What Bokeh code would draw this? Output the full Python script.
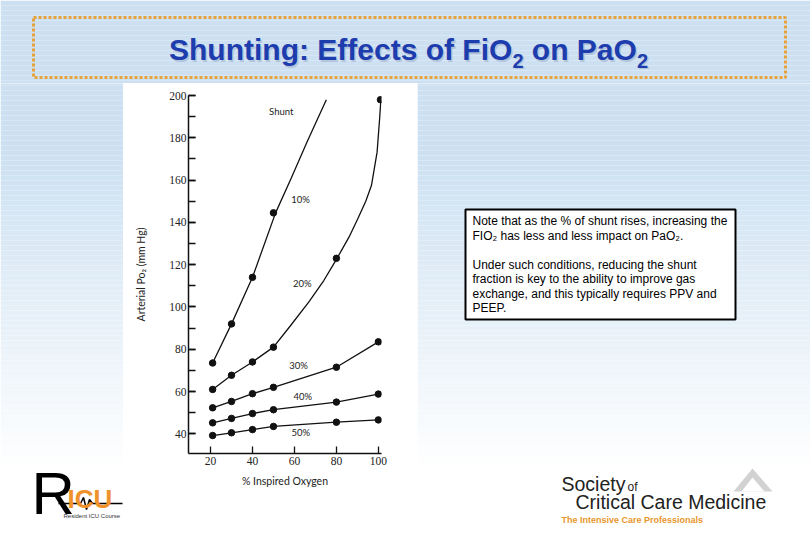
from bokeh.plotting import figure
from bokeh.models import Range1d, SingleIntervalTicker, FixedTicker, ColumnDataSource
from bokeh.layouts import column, row
from bokeh.core.properties import value
from bokeh.embed import file_html
from bokeh.resources import INLINE

# ---------------- data ----------------
fio2_10 = [21, 30, 40, 50]
pao2_10 = [73.5, 92, 114, 144.5]
fio2_20 = [21, 30, 40, 50, 80, 101]
pao2_20 = [61, 67.7, 74, 81, 123, 198]
fio2 = [21, 30, 40, 50, 80, 100]
pao2_30 = [52.3, 55.3, 59, 62, 71.5, 83.5]
pao2_40 = [45.2, 47.3, 49.6, 51.4, 55, 58.8]
pao2_50 = [39.2, 40.5, 42, 43.5, 45.5, 46.6]

# traced paths of the two curved lines
trace10_x = [21, 30, 40, 51, 58.5, 66, 75.2]
trace10_y = [73.5, 92, 114, 144.5, 161, 178, 198]
trace20_x = [21, 30, 40, 50, 58, 66.8, 74, 80.3, 86, 90.2, 94, 96.7, 99.4, 100.6, 101.2]
trace20_y = [61, 67.7, 74, 81, 91, 102.3, 112.5, 123, 133, 141.7, 150, 157.4, 173.2, 189, 197.8]

curve_labels = ["Shunt", "10%", "20%", "30%", "40%", "50%"]
curve_label_x = [53.7, 62.9, 63.7, 62, 64, 63]
curve_label_y = [192.4, 151, 111, 72.3, 57.7, 40.5]

x_ticks = [20, 40, 60, 80, 100]
y_tick_step = 20

title_parts = ["Shunting: Effects of FiO", "2", "on PaO", "2"]
note_lines = [
    "Note that as the % of shunt rises, increasing the",
    "FIO\u2082 has less and less impact on PaO\u2082.",
    "Under such conditions, reducing the shunt",
    "fraction is key to the ability to improve gas",
    "exchange, and this typically requires PPV and",
    "PEEP.",
]

TOP_RGB = (204, 224, 241)


def grad_color(yc):
    t = min(max((yc - 150) / 320.0, 0.0), 1.0)
    c = tuple(int(round(TOP_RGB[i] + t * (255 - TOP_RGB[i]))) for i in range(3))
    return "#%02x%02x%02x" % c


def deco(x0, x1, y0, y1):
    """A decoration panel whose data units are page pixels (y downward)."""
    f = figure(width=x1 - x0, height=y1 - y0, x_range=Range1d(x0, x1),
               y_range=Range1d(y1, y0), output_backend="svg", toolbar_location=None,
               x_axis_location=None, y_axis_location=None, min_border=0)
    f.title.visible = False
    f.xgrid.visible = False
    f.ygrid.visible = False
    f.outline_line_color = None
    f.border_fill_color = None
    tops = list(range(y0 - (y0 % 5), y1, 5))
    f.quad(left=x0, right=x1, top=tops, bottom=[t + 5 for t in tops],
           fill_color=[grad_color(t + 2.5) for t in tops], line_color=None)
    return f


def txt(f, x, y, s, size, font="Liberation Sans", style="normal", color="#222222",
        align="left", alpha=1.0):
    f.text(x=[x], y=[y], text=[s], text_font=value(font), text_font_size=size,
           text_font_style=style, text_color=color, text_align=align,
           text_baseline="middle", text_alpha=alpha)


# ---------------- chart ----------------
p = figure(width=294, height=413, x_range=Range1d(9.5, 101.5), y_range=Range1d(30.7, 200),
           output_backend="svg", toolbar_location=None,
           min_border_left=65, min_border_right=36, min_border_top=12, min_border_bottom=43)
p.title.visible = False
p.xgrid.visible = False
p.ygrid.visible = False
p.outline_line_color = None
p.background_fill_color = "white"
p.border_fill_color = "white"

LC = "#111111"
p.line(trace10_x, trace10_y, line_color=LC, line_width=1.3)
p.line(trace20_x, trace20_y, line_color=LC, line_width=1.3)
p.line(fio2, pao2_30, line_color=LC, line_width=1.3)
p.line(fio2, pao2_40, line_color=LC, line_width=1.3)
p.line(fio2, pao2_50, line_color=LC, line_width=1.3)
for xs, ys in [(fio2_10, pao2_10), (fio2_20, pao2_20), (fio2, pao2_30),
               (fio2, pao2_40), (fio2, pao2_50)]:
    p.scatter(xs, ys, size=6.5, marker="circle", fill_color=LC, line_color=LC)

src = ColumnDataSource(dict(x=curve_label_x, y=curve_label_y, t=curve_labels))
p.text(x="x", y="y", text="t", source=src, text_font=value("Lato"),
       text_font_size="9.5px", text_color="#222222", text_align="center",
       text_baseline="middle")

p.yaxis.ticker = SingleIntervalTicker(interval=y_tick_step, num_minor_ticks=2)
p.xaxis.ticker = FixedTicker(ticks=x_ticks, minor_ticks=[])
for ax in (p.xaxis, p.yaxis):
    ax.axis_line_color = "#111111"
    ax.axis_line_width = 1.5
    ax.major_tick_line_color = "#111111"
    ax.major_tick_line_width = 1.3
    ax.minor_tick_line_color = "#111111"
    ax.minor_tick_line_width = 1.3
    ax.major_tick_in = 7
    ax.major_tick_out = 0
    ax.minor_tick_in = 7
    ax.minor_tick_out = 0
    ax.major_label_text_font = "Liberation Serif"
    ax.major_label_text_font_size = "11.5px"
    ax.major_label_text_color = "#222222"
    ax.axis_label_text_font = "Lato"
    ax.axis_label_text_font_size = "10.5px"
    ax.axis_label_text_font_style = "normal"
    ax.axis_label_text_color = "#222222"
p.xaxis.axis_label = "% Inspired Oxygen"
p.yaxis.axis_label = "Arterial Po\u2082 (mm Hg)"
p.xaxis.major_label_standoff = 3
p.xaxis.axis_label_standoff = 7
p.yaxis.major_label_standoff = 2
p.yaxis.axis_label_standoff = 19

# ---------------- title band ----------------
top = deco(0, 810, 0, 83)
top.quad(left=[33], right=[785], top=[17], bottom=[77], fill_color=None,
         line_color="#e8a23a", line_width=3, line_dash="3 2")
TBLUE = "#1d3cae"
title_x = [168.5, 511.9, 531.3, 636.4]
title_y = [49, 60, 49, 60]
title_size = ["30px", "20px", "30px", "20px"]
for dx, col, alpha in [(1.5, "#7f8db0", 0.35), (0, TBLUE, 1.0)]:
    for tx, ty, ts, tt in zip(title_x, title_y, title_size, title_parts):
        txt(top, tx + dx, ty + dx, tt, ts, style="bold", color=col, alpha=alpha)

# ---------------- left panel (RICU logo) ----------------
left = deco(0, 123, 83, 540)
left.quad(left=[25], right=[123], top=[465], bottom=[522], fill_color="white", line_color=None)
txt(left, 31, 493, "R", "60px", color="black")
left.line([58, 80, 83, 86, 89, 92, 122], [503, 503, 497, 509, 499, 503, 503],
          line_color="black", line_width=1.5)
txt(left, 67, 498, "ICU", "26px", style="bold", color="#f0922b")
txt(left, 63, 515, "Resident ICU Course", "6px", color="#333333")

# ---------------- middle bottom strip ----------------
midbot = deco(123, 417, 496, 540)

# ---------------- right panel (note + SCCM logo) ----------------
right = deco(417, 810, 83, 540)
right.quad(left=[465], right=[735], top=[209], bottom=[319], fill_color="white",
           line_color="black", line_width=2)
note_y = [220, 235.5, 264, 278.5, 293, 307.5]
for ny, nt in zip(note_y, note_lines):
    txt(right, 472, ny, nt, "12px", color="black")

right.quad(left=[557], right=[773], top=[468], bottom=[522], fill_color="white", line_color=None)
txt(right, 561, 483, "Society", "19.5px")
txt(right, 627, 486, "of", "12px")
txt(right, 575, 501, "Critical Care Medicine", "19.5px")
txt(right, 561, 519, "The Intensive Care Professionals", "9px", style="bold", color="#e8962e")
right.patch([733, 752, 772], [491, 468, 491], fill_color="#d2d2d2", line_color=None)
right.patch([741, 752, 764], [491, 477, 491], fill_color="white", line_color=None)

page = column(top, row(left, column(p, midbot, spacing=0), right, spacing=0), spacing=0)

open("out.html", "w").write(file_html(page, INLINE))
